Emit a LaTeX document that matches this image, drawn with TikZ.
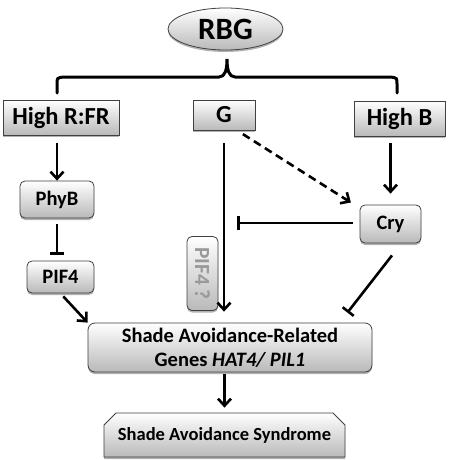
\documentclass[tikz,border=0pt]{standalone}
\usepackage{fontspec}
\setmainfont{Carlito}
\usetikzlibrary{arrows.meta,shapes.geometric,shapes.misc,shadows}
\begin{document}
\begin{tikzpicture}[x=1pt,y=-1pt,
  box/.style={draw=gray!50!black, line width=0.8pt, top color=white, bottom color=gray!55,
    font=\bfseries, inner sep=0pt, align=center,
    drop shadow={shadow xshift=0pt, shadow yshift=-2pt, opacity=0.3, fill=black}},
  rbox/.style={box, rounded corners=5pt},
  arr/.style={line width=2.6pt, -{Straight Barb[length=7pt,width=13pt,line width=2.6pt]}},
  inh/.style={line width=2.6pt, -{Bar[width=14pt,line width=2.6pt]}},
  bracestyle/.style={line width=3pt, line cap=round}
]
\useasboundingbox[fill=white] (0,0) rectangle (448,460);

\node[box, ellipse, minimum width=115pt, minimum height=42pt, font=\bfseries\fontsize{31}{31}\selectfont] (rbg) at (225.5,29) {RBG};

\node[box, minimum width=116pt, minimum height=35pt, font=\bfseries\fontsize{24.5}{24}\selectfont] (hrfr) at (61,117.5) {High R:FR};
\node[box, minimum width=62pt, minimum height=30pt, font=\bfseries\fontsize{24.5}{24}\selectfont] (g) at (224,115) {G};
\node[box, minimum width=91pt, minimum height=35pt, font=\bfseries\fontsize{24.5}{24}\selectfont] (hb) at (399.5,118.5) {High B};

\node[rbox, minimum width=74pt, minimum height=37pt, font=\bfseries\fontsize{20.5}{20}\selectfont] (phyb) at (57,199.5) {PhyB};
\node[rbox, minimum width=67pt, minimum height=32pt, font=\bfseries\fontsize{20.5}{20}\selectfont] (pif4) at (60.5,277) {PIF4};
\node[rbox, minimum width=61pt, minimum height=38pt, font=\bfseries\fontsize{20.5}{20}\selectfont] (cry) at (390.5,224) {Cry};

\node[rbox, rotate=-90, minimum width=74pt, minimum height=31pt, text=gray!80, font=\bfseries\fontsize{21.5}{20}\selectfont] (pif4q) at (202.5,273.5) {PIF4 ?};

\node[rbox, rounded corners=7pt, minimum width=284pt, minimum height=49pt, font=\bfseries\fontsize{20.5}{24}\selectfont] (sar) at (230,347.5) {Shade Avoidance-Related\\Genes \textit{HAT4/ PIL1}};

\node[box, chamfered rectangle, chamfered rectangle corners={north west,north east}, chamfered rectangle xsep=6pt, chamfered rectangle ysep=6pt, minimum width=241pt, minimum height=44pt, font=\bfseries\fontsize{18.5}{18}\selectfont] (sas) at (224.5,435) {Shade Avoidance Syndrome};

% brace from RBG to the three light conditions
\coordinate (bl) at (57,93);
\coordinate (br) at (397,93);
\coordinate (btip) at (227,59);
\draw[bracestyle] (bl) -- (57,84) .. controls (57,78) .. (63,77) -- (219,77)
  .. controls (225,77) and (227,70) .. (btip)
  .. controls (227,70) and (229,77) .. (235,77) -- (391,77)
  .. controls (397,78) .. (397,84) -- (br);

% connectors
\draw[arr, shorten <=8pt] (hrfr.south -| phyb.north) -- (phyb.north);
\draw[inh, shorten <=6pt, shorten >=6pt] (phyb.south) -- (phyb.south |- pif4.north);
\draw[arr, shorten <=4pt] (pif4.south) -- (sar.north west);
\draw[arr, shorten <=13pt, shorten >=11pt] (g.south) -- (g.south |- sar.north);
\draw[arr, dash pattern=on 8pt off 5pt, shorten <=7pt, shorten >=2pt] ([xshift=13pt]g.south) -- ([xshift=-7pt,yshift=1pt]cry.north west);
\draw[arr, shorten <=7pt, shorten >=11pt] (hb.south -| cry.north) -- (cry.north);
\draw[inh, shorten <=7pt, shorten >=13pt] ([yshift=1pt]cry.west) -- ([yshift=1pt]cry.west -| g.south);
\draw[inh] ([xshift=1.5pt,yshift=-12pt]cry.south) -- ([xshift=-25pt,yshift=10pt]sar.north east);
\draw[arr, shorten <=2pt, shorten >=5pt] (sas.north |- sar.south) -- (sas.north);
\end{tikzpicture}
\end{document}
